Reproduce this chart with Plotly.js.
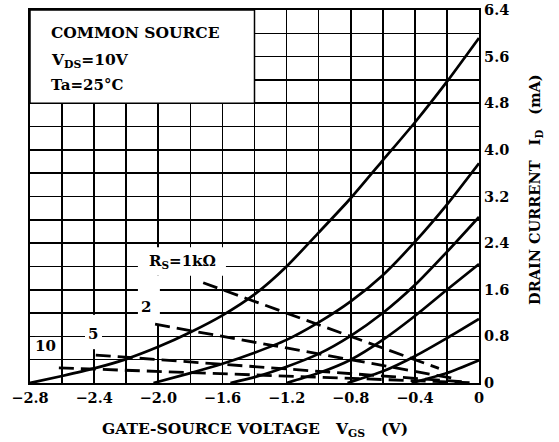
<!DOCTYPE html>
<html>
<head>
<meta charset="utf-8">
<script src="https://cdn.plot.ly/plotly-3.0.1.min.js"></script>
<style>html,body{margin:0;padding:0;background:#fff;}#chart{width:559px;height:442px;}</style>
</head>
<body>
<div id="chart"></div>
<script>
// ---- data (V_GS in V, I_D in mA) ----
const vgsA = [-2.8,-2.6,-2.4,-2.2,-2.0,-1.8,-1.6,-1.4,-1.2,-1.0,-0.8,-0.6,-0.4,-0.2,0];
const idA  = [0,0.12,0.25,0.41,0.62,0.87,1.16,1.52,2.0,2.58,3.17,3.82,4.47,5.17,5.92];
const vgsB = [-2.03,-1.8,-1.6,-1.4,-1.2,-1.0,-0.8,-0.6,-0.4,-0.2,0];
const idB  = [0,0.17,0.33,0.52,0.74,1.04,1.4,1.85,2.42,3.06,3.77];
const vgsC = [-1.55,-1.4,-1.2,-1.0,-0.8,-0.6,-0.4,-0.2,0];
const idC  = [0,0.1,0.28,0.5,0.81,1.2,1.68,2.25,2.85];
const vgsD = [-1.2,-1.0,-0.8,-0.6,-0.4,-0.2,0];
const idD  = [0,0.17,0.4,0.74,1.15,1.6,2.04];
const vgsE = [-0.82,-0.6,-0.4,-0.2,0];
const idE  = [0,0.2,0.46,0.77,1.1];
const vgsF = [-0.42,-0.2,0];
const idF  = [0,0.17,0.39];
// load lines for source resistors
const vgsRs1 = [-1.72,-0.25];  const idRs1 = [1.72,0.25];
const vgsRs2 = [-2.02,-0.14];  const idRs2 = [1.01,0.07];
const vgsRs5 = [-2.39,-0.10];  const idRs5 = [0.48,0.02];
const vgsRs10 = [-2.62,-0.05]; const idRs10 = [0.26,0.005];
// tick labels (gridlines every 0.2 V / 0.4 mA)
const xTickVals = [-2.8,-2.4,-2.0,-1.6,-1.2,-0.8,-0.4,0];
const xTickText = ['\u22122.8','\u22122.4','\u22122.0','\u22121.6','\u22121.2','\u22120.8','\u22120.4','0'];
const yTickVals = [0,0.8,1.6,2.4,3.2,4.0,4.8,5.6,6.4];
const yTickText = ['0','0.8','1.6','2.4','3.2','4.0','4.8','5.6','6.4'];

const FONT = 'DejaVu Serif, serif';
const solid = {color:'#000', width:2.7, shape:'spline', smoothing:0.6};
const dashed = {color:'#000', width:2.8, dash:'15px,7px'};

const traces = [
  [vgsA,idA],[vgsB,idB],[vgsC,idC],[vgsD,idD],[vgsE,idE],[vgsF,idF]
].map(p => ({x:p[0], y:p[1], mode:'lines', line:solid, hoverinfo:'skip', showlegend:false}));
[[vgsRs1,idRs1],[vgsRs2,idRs2],[vgsRs5,idRs5],[vgsRs10,idRs10]].forEach(p =>
  traces.push({x:p[0], y:p[1], mode:'lines', line:dashed, hoverinfo:'skip', showlegend:false}));

function blank(x0,x1,y0,y1){
  return {type:'rect', xref:'x', yref:'y', x0:x0, x1:x1, y0:y0, y1:y1,
          fillcolor:'#fff', line:{width:0}, layer:'between'};
}
const shapes = [
  {type:'rect', xref:'x', yref:'y', x0:-2.8, x1:-1.4, y0:4.8, y1:6.4,
   fillcolor:'#fff', line:{color:'#000', width:1.5}, layer:'between'},
  blank(-2.127,-1.578,1.84,2.33),
  blank(-2.127,-1.99,0.98,1.84),
  blank(-2.457,-2.351,0.58,1.17),
  blank(-2.77,-2.612,0.43,0.79)
];

const tf = (s) => ({family:FONT, size:s, color:'#000', weight:'bold'});
const annotations = [
  {x:-2.68, y:6.01, xref:'x', yref:'y', xanchor:'left', yanchor:'middle', text:'COMMON SOURCE', showarrow:false, font:tf(15.5)},
  {x:-2.68, y:5.54, xref:'x', yref:'y', xanchor:'left', yanchor:'middle', text:'V<sub>DS</sub>=10V', showarrow:false, font:tf(15.5)},
  {x:-2.68, y:5.12, xref:'x', yref:'y', xanchor:'left', yanchor:'middle', text:'Ta=25\u00B0C', showarrow:false, font:tf(15)},
  {x:-1.852, y:2.08, xref:'x', yref:'y', text:'R<sub>S</sub>=1k\u03A9', showarrow:false, font:tf(15)},
  {x:-2.077, y:1.30, xref:'x', yref:'y', text:'2', showarrow:false, font:tf(15)},
  {x:-2.405, y:0.84, xref:'x', yref:'y', text:'5', showarrow:false, font:tf(15)},
  {x:-2.706, y:0.63, xref:'x', yref:'y', text:'10', showarrow:false, font:tf(15)},
  {x:0.5, y:-0.125, xref:'paper', yref:'paper', yanchor:'middle', showarrow:false,
   text:'GATE-SOURCE VOLTAGE\u00A0\u00A0\u00A0V<sub>GS</sub>\u00A0\u00A0\u00A0(V)', font:tf(15.5)},
  {x:1.15, y:0.52, xref:'paper', yref:'paper', textangle:-90, showarrow:false,
   text:'DRAIN CURRENT\u00A0\u00A0\u00A0I<sub>D</sub>\u00A0\u00A0\u00A0(mA)', font:tf(14.5)}
];

const gridStyle = {showgrid:true, gridcolor:'#000', gridwidth:1.6, ticks:''};
const layout = {
  width:559, height:442,
  margin:{l:30, r:80, t:10, b:59, pad:0},
  paper_bgcolor:'#fff', plot_bgcolor:'#fff',
  showlegend:false,
  xaxis:Object.assign({range:[-2.8,0], tickmode:'array', tickvals:xTickVals, ticktext:xTickText,
         zeroline:false, showline:true, mirror:true, linecolor:'#000', linewidth:2.2,
         tickfont:tf(14.5), fixedrange:true,
         minor:Object.assign({tick0:0, dtick:0.2}, gridStyle)}, gridStyle),
  yaxis:Object.assign({range:[0,6.4], side:'right', tickmode:'array', tickvals:yTickVals, ticktext:yTickText,
         zeroline:false, showline:true, mirror:true, linecolor:'#000', linewidth:2.2,
         tickfont:tf(14.5), fixedrange:true,
         minor:Object.assign({tick0:0, dtick:0.4}, gridStyle)}, gridStyle),
  shapes:shapes,
  annotations:annotations
};
Plotly.newPlot('chart', traces, layout, {staticPlot:true, displayModeBar:false});
</script>
</body>
</html>
